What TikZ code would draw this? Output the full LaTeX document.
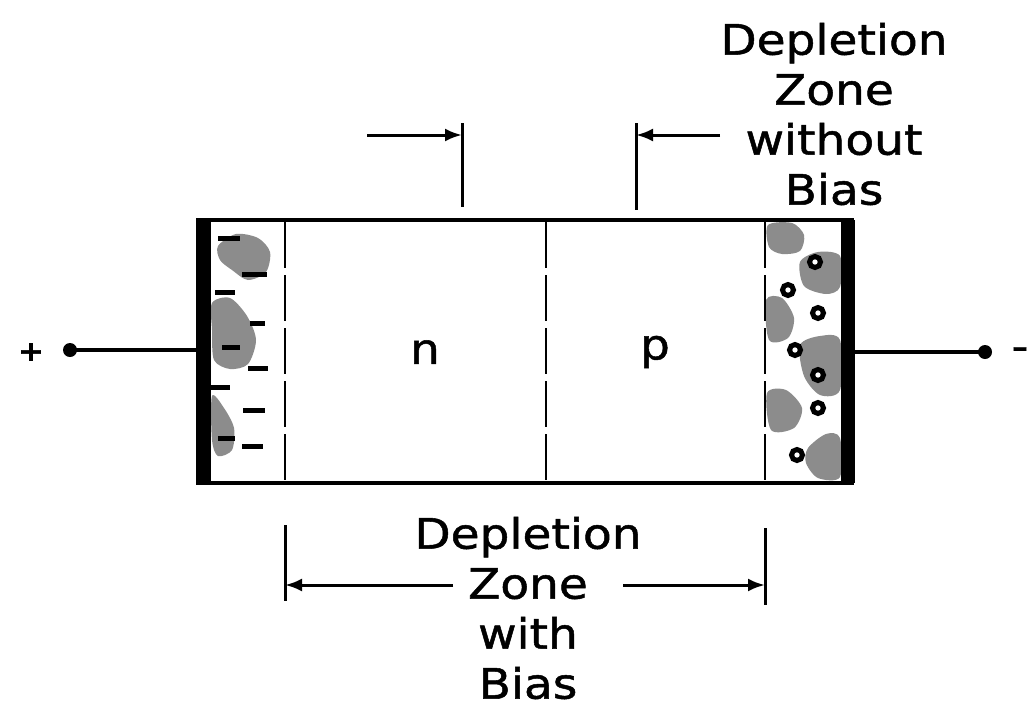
\documentclass[tikz,border=0pt]{standalone}
\usepackage{fontspec}
\setmainfont{DejaVu Sans}[FakeStretch=1.12, FakeBold=1.2]
\usetikzlibrary{arrows.meta}
\begin{document}
\begin{tikzpicture}[x=1pt,y=-1pt,
  lbl/.style={font=\fontsize{42}{50}\selectfont, align=center, inner sep=0pt},
  sign/.style={font=\fontsize{28}{28}\selectfont\bfseries, inner sep=0pt},
  wire/.style={line width=3.4pt},
  dim/.style={line width=3pt},
  dimarrow/.style={line width=3pt, -{Latex[length=17pt,width=13pt]}},
  bnd/.style={line width=2.2pt, dash pattern=on 46pt off 7pt},
  blob/.style={fill=black!45},
  minus/.style={line width=5pt},
  hole/.style={draw, line width=5pt, fill=white, circle, minimum size=11pt, inner sep=0pt},
  term/.style={circle, fill, inner sep=0pt, minimum size=14pt},
]
\useasboundingbox[fill=white] (0,0) rectangle (1030,715);

% depletion regions: charge clouds
\fill[blob] plot[smooth cycle] coordinates {(218,246) (236,234) (258,238) (270,252) (266,272) (248,280) (232,270) (220,260)};
\fill[blob] plot[smooth cycle] coordinates {(212,303) (230,298) (247,316) (256,340) (248,364) (230,369) (214,360) (212,330)};
\fill[blob] plot[smooth cycle] coordinates {(212,396) (224,408) (234,428) (232,450) (218,456) (212,440)};
\fill[blob] plot[smooth cycle] coordinates {(768,225) (792,223) (804,235) (800,251) (782,254) (769,247)};
\fill[blob] plot[smooth cycle] coordinates {(800,262) (818,252) (840,256) (840,287) (826,294) (804,286)};
\fill[blob] plot[smooth cycle] coordinates {(766,300) (782,298) (794,318) (788,338) (769,340)};
\fill[blob] plot[smooth cycle] coordinates {(800,345) (820,336) (840,340) (840,390) (820,395) (804,376)};
\fill[blob] plot[smooth cycle] coordinates {(767,393) (786,390) (802,408) (794,428) (771,430)};
\fill[blob] plot[smooth cycle] coordinates {(808,448) (826,434) (840,438) (840,477) (818,478) (806,463)};

% fixed negative charges (n side)
\foreach \xa/\xb/\yy in {218/240/238, 242/267/274, 215/235/292, 250/265/323, 222/240/347,
                         248/268/368, 211/230/387, 243/265/410, 218/235/438, 242/263/446}
  \draw[minus] (\xa,\yy) -- (\xb,\yy);

% holes (p side)
\foreach \hx/\hy [count=\k] in {815/262, 788/290, 818/313, 795/350, 818/375, 818/408, 797/455}
  \node[hole] (h\k) at (\hx,\hy) {};

% diode body and contact plates
\node[draw, line width=3.6pt, minimum width=654pt, minimum height=263pt, inner sep=0pt] (box) at (525,351.5) {};
\fill (198,220) rectangle (211,483);
\fill (841,220) rectangle (855,483);

% region boundaries
\draw[bnd] (285,222) -- (285,481);
\draw[bnd] (546,222) -- (546,481);
\draw[bnd] (765,222) -- (765,481);

% n and p labels
\node[lbl] (nlab) at (425,352) {n};
\node[lbl] (plab) at (655,352) {p};

% terminals
\node[term] (ldot) at (70,350) {};
\node[term] (rdot) at (985,352) {};
\node[sign] (plus) at (31,352) {+};
\node[sign] (minussign) at (1020,352) {–};
\draw[wire] (ldot.center) -- (ldot -| box.west);
\draw[wire] (rdot.center) -- (rdot -| box.east);

% depletion zone without bias
\coordinate (tla) at (462,123);
\coordinate (tlb) at (462,207);
\coordinate (tra) at (636,123);
\coordinate (trb) at (636,210);
\coordinate (tls) at (367,135);
\coordinate (trs) at (720,135);
\draw[dim] (tla) -- (tlb);
\draw[dim] (tra) -- (trb);
\draw[dimarrow] (tls) -- (tls -| tla);
\draw[dimarrow] (trs) -- (trs -| tra);
\node[lbl] (topnote) at (834,114) {Depletion\\Zone\\without\\Bias};

% depletion zone with bias
\coordinate (bla) at (285,525);
\coordinate (blb) at (285,601);
\coordinate (bra) at (765,528);
\coordinate (brb) at (765,605);
\coordinate (bls) at (453,585);
\coordinate (brs) at (623,585);
\draw[dim] (bla) -- (blb);
\draw[dim] (bra) -- (brb);
\draw[dimarrow] (bls) -- (bls -| bla);
\draw[dimarrow] (brs) -- (brs -| bra);
\node[lbl] (botnote) at (528,608) {Depletion\\Zone\\with\\Bias};
\end{tikzpicture}
\end{document}
